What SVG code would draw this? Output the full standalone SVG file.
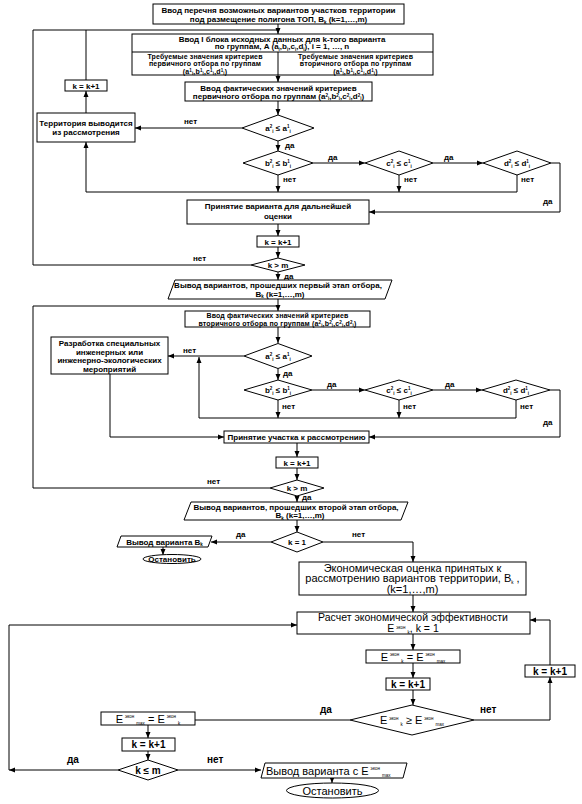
<svg xmlns="http://www.w3.org/2000/svg" width="582" height="804" viewBox="0 0 582 804">
<defs>
<marker id="ah" markerWidth="6" markerHeight="6" refX="6" refY="3" orient="auto" markerUnits="userSpaceOnUse"><path d="M0,0.5 L6,3 L0,5.5 z" fill="#000"/></marker>
<style>
.bx{fill:#fff;stroke:#000;stroke-width:1}
.ln{fill:none;stroke:#000;stroke-width:1}
.ar{marker-end:url(#ah)}
text{font-family:"Liberation Sans",Arial,sans-serif;fill:#000}
.b8{font-size:8px;font-weight:bold}
.b7{font-size:7px;font-weight:bold;letter-spacing:0.15px}
.r11{font-size:11px}
.r10{font-size:10.5px}
.b10{font-size:10px;font-weight:bold}
.m{text-anchor:middle}
.s{font-size:4.5px}
.s4{font-size:4.5px}
</style>
</defs>
<rect width="582" height="804" fill="#fff"/>
<g id="connectors">
<path class="ln ar" d="M278,24V34"/>
<path class="ln ar" d="M278,75V82"/>
<path class="ln ar" d="M278,101V115"/>
<path class="ln ar" d="M242,128H135"/>
<path class="ln ar" d="M278,141V151"/>
<path class="ln ar" d="M313,163H365"/>
<path class="ln ar" d="M433,163H483"/>
<path class="ln ar" d="M551,163H560V212H369"/>
<path class="ln ar" d="M278,175V192"/>
<path class="ln ar" d="M399,175V192"/>
<path class="ln" d="M517,175V192H399"/>
<path class="ln ar" d="M399,192H86V142"/>
<path class="ln ar" d="M86,113V91"/>
<path class="ln" d="M86,80V30H278"/>
<path class="ln ar" d="M278,224V236"/>
<path class="ln ar" d="M278,247V258"/>
<path class="ln" d="M251,265H33V30H86"/>
<path class="ln ar" d="M278,272V280"/>
<path class="ln ar" d="M278,299V311"/>
<path class="ln" d="M270,488H33V306H278"/>
<path class="ln ar" d="M278,327V343"/>
<path class="ln ar" d="M244,356H168"/>
<path class="ln ar" d="M110,374V437H224"/>
<path class="ln ar" d="M278,368.5V380"/>
<path class="ln ar" d="M312,390H365"/>
<path class="ln ar" d="M433,390H482"/>
<path class="ln ar" d="M550,390H560V437H369"/>
<path class="ln ar" d="M278,400V418"/>
<path class="ln ar" d="M399,400V418"/>
<path class="ln" d="M516,400V418H399"/>
<path class="ln ar" d="M399,418H199V357"/>
<path class="ln ar" d="M297,443V457"/>
<path class="ln ar" d="M297,468V480"/>
<path class="ln ar" d="M297,496V502"/>
<path class="ln ar" d="M297,520V532"/>
<path class="ln ar" d="M271,542H211"/>
<path class="ln ar" d="M163,547V555"/>
<path class="ln ar" d="M323,542H413V562"/>
<path class="ln ar" d="M413,595V612"/>
<path class="ln ar" d="M118,770H9"/>
<path class="ln ar" d="M9,770V625H297"/>
<path class="ln ar" d="M413,634V650"/>
<path class="ln ar" d="M413,663V678"/>
<path class="ln ar" d="M413,690V705"/>
<path class="ln ar" d="M474,720H550V677"/>
<path class="ln ar" d="M550,665V620H530"/>
<path class="ln" d="M350,720H195"/>
<path class="ln ar" d="M148,725V738"/>
<path class="ln ar" d="M148,751V760"/>
<path class="ln ar" d="M178,770H261"/>
<path class="ln ar" d="M332,778V783"/>
<g class="b8">
<text x="184" y="124">нет</text>
<text x="285" y="148">да</text>
<text x="328" y="160">да</text>
<text x="444" y="160">да</text>
<text x="543" y="204">да</text>
<text x="283" y="182">нет</text>
<text x="404" y="182">нет</text>
<text x="521" y="182">нет</text>
<text x="193" y="261">нет</text>
<text x="284" y="279">да</text>
<text x="183" y="353">нет</text>
<text x="283" y="376">да</text>
<text x="327" y="387">да</text>
<text x="445" y="387">да</text>
<text x="543" y="425">да</text>
<text x="282" y="409">нет</text>
<text x="403" y="409">нет</text>
<text x="520" y="409">нет</text>
<text x="207" y="484">нет</text>
<text x="302" y="500">да</text>
<text x="236" y="537">да</text>
<text x="352" y="537">нет</text>
</g>
<g class="b10">
<text x="320" y="713">да</text>
<text x="480" y="713">нет</text>
<text x="67" y="763">да</text>
<text x="207" y="763">нет</text>
</g>
</g>
<g id="n1"><rect class="bx" x="153" y="4" width="251" height="20"/>
<text class="b8 m" x="278.5" y="13">Ввод перечня возможных вариантов участков территории</text>
<text class="b8 m" x="278.5" y="22">под размещение полигона ТОП, B<tspan class="s" dy="1.5">k</tspan><tspan dy="-1.5"> (k=1,…,m)</tspan></text></g>
<g id="n2"><rect class="bx" x="132" y="34" width="301" height="41"/><path class="ln" d="M132,52H433M278,52V75"/>
<text class="b8 m" x="282" y="41.5">Ввод I блока исходных данных для k-того варианта</text>
<text class="b8 m" x="282" y="49.3">по группам, A (a<tspan class="s" dy="1.2">i</tspan><tspan dy="-1.2">,b</tspan><tspan class="s" dy="1.2">i</tspan><tspan dy="-1.2">,c</tspan><tspan class="s" dy="1.2">i</tspan><tspan dy="-1.2">,d</tspan><tspan class="s" dy="1.2">i</tspan><tspan dy="-1.2">), i = 1, …, n</tspan></text>
<text class="b7 m" x="205" y="59">Требуемые значения критериев</text>
<text class="b7 m" x="205" y="66.3">первичного отбора по группам</text>
<text class="b7 m" x="205" y="73.6">(a<tspan class="s" dy="-1.2">1</tspan><tspan class="s" dy="2.4">i</tspan><tspan dy="-1.2">,b</tspan><tspan class="s" dy="-1.2">1</tspan><tspan class="s" dy="2.4">i</tspan><tspan dy="-1.2">,c</tspan><tspan class="s" dy="-1.2">1</tspan><tspan class="s" dy="2.4">i</tspan><tspan dy="-1.2">,d</tspan><tspan class="s" dy="-1.2">1</tspan><tspan class="s" dy="2.4">i</tspan><tspan dy="-1.2">)</tspan></text>
<text class="b7 m" x="355.5" y="59">Требуемые значения критериев</text>
<text class="b7 m" x="355.5" y="66.3">вторичного отбора по группам</text>
<text class="b7 m" x="355.5" y="73.6">(a<tspan class="s" dy="-1.2">1</tspan><tspan class="s" dy="2.4">i</tspan><tspan dy="-1.2">,b</tspan><tspan class="s" dy="-1.2">1</tspan><tspan class="s" dy="2.4">i</tspan><tspan dy="-1.2">,c</tspan><tspan class="s" dy="-1.2">1</tspan><tspan class="s" dy="2.4">i</tspan><tspan dy="-1.2">,d</tspan><tspan class="s" dy="-1.2">1</tspan><tspan class="s" dy="2.4">i</tspan><tspan dy="-1.2">)</tspan></text></g>
<g id="n3"><rect class="bx" x="185" y="82" width="187" height="19"/>
<text class="b8 m" x="278.5" y="90.5">Ввод фактических значений критериев</text>
<text class="b8 m" x="278.5" y="98.5">первичного отбора по группам (a<tspan class="s" dy="-2">2</tspan><tspan class="s" dy="3.5">i</tspan><tspan dy="-1.5">,b</tspan><tspan class="s" dy="-2">2</tspan><tspan class="s" dy="3.5">i</tspan><tspan dy="-1.5">,c</tspan><tspan class="s" dy="-2">2</tspan><tspan class="s" dy="3.5">i</tspan><tspan dy="-1.5">,d</tspan><tspan class="s" dy="-2">2</tspan><tspan class="s" dy="3.5">i</tspan><tspan dy="-1.5">)</tspan></text></g>
<g id="d1a"><polygon class="bx" points="242,128 278,115 314,128 278,141"/>
<text class="b8 m" x="278" y="131">a<tspan class="s" dy="-3">2</tspan><tspan class="s" dy="4.5">i</tspan><tspan dy="-1.5"> ≤ a</tspan><tspan class="s" dy="-3">1</tspan><tspan class="s" dy="4.5">i</tspan></text></g>
<g id="n_terr"><rect class="bx" x="37" y="113" width="98" height="29"/>
<text class="b8 m" x="86" y="126">Территория выводится</text>
<text class="b8 m" x="86" y="135">из рассмотрения</text></g>
<g id="k1"><rect class="bx" x="65" y="80" width="42" height="11"/><text class="b8 m" x="86" y="88.5">k = k+1</text></g>
<g id="d1b"><polygon class="bx" points="243,163 278,151 313,163 278,175"/>
<text class="b8 m" x="278" y="166">b<tspan class="s" dy="-3">2</tspan><tspan class="s" dy="4.5">i</tspan><tspan dy="-1.5"> ≤ b</tspan><tspan class="s" dy="-3">1</tspan><tspan class="s" dy="4.5">i</tspan></text></g>
<g id="d1c"><polygon class="bx" points="365,163 399,151 433,163 399,175"/>
<text class="b8 m" x="399" y="166">c<tspan class="s" dy="-3">2</tspan><tspan class="s" dy="4.5">i</tspan><tspan dy="-1.5"> ≤ c</tspan><tspan class="s" dy="-3">1</tspan><tspan class="s" dy="4.5">i</tspan></text></g>
<g id="d1d"><polygon class="bx" points="483,163 517,151 551,163 517,175"/>
<text class="b8 m" x="517" y="166">d<tspan class="s" dy="-3">2</tspan><tspan class="s" dy="4.5">i</tspan><tspan dy="-1.5"> ≤ d</tspan><tspan class="s" dy="-3">1</tspan><tspan class="s" dy="4.5">i</tspan></text></g>
<g id="n_accept1"><rect class="bx" x="187" y="200" width="182" height="24"/>
<text class="b8 m" x="278" y="209">Принятие варианта для дальнейшей</text>
<text class="b8 m" x="278" y="218.5">оценки</text></g>
<g id="k2"><rect class="bx" x="257" y="236" width="42" height="11"/><text class="b8 m" x="278" y="244.5">k = k+1</text></g>
<g id="d_km1"><polygon class="bx" points="251,265 278,258 305,265 278,272"/><text class="b8 m" x="278" y="268">k &gt; m</text></g>
<g id="out1"><polygon class="bx" points="175,280 392,280 385,299 168,299"/>
<text class="b8 m" x="278" y="288">Вывод вариантов, прошедших первый этап отбора,</text>
<text class="b8 m" x="280" y="296.5">B<tspan class="s" dy="1.5">k</tspan><tspan dy="-1.5"> (k=1,…,m)</tspan></text></g>
<g id="n4"><rect class="bx" x="185" y="311" width="185" height="16"/>
<text class="b7 m" x="277.5" y="318">Ввод фактических значений критериев</text>
<text class="b7 m" x="277.5" y="325.5">вторичного отбора по группам (a<tspan class="s" dy="-2">2</tspan><tspan class="s" dy="3.5">i</tspan><tspan dy="-1.5">,b</tspan><tspan class="s" dy="-2">2</tspan><tspan class="s" dy="3.5">i</tspan><tspan dy="-1.5">,c</tspan><tspan class="s" dy="-2">2</tspan><tspan class="s" dy="3.5">i</tspan><tspan dy="-1.5">,d</tspan><tspan class="s" dy="-2">2</tspan><tspan class="s" dy="3.5">i</tspan><tspan dy="-1.5">)</tspan></text></g>
<g id="d2a"><polygon class="bx" points="244,356 278,343.5 312,356 278,368.5"/>
<text class="b8 m" x="278" y="359">a<tspan class="s" dy="-3">2</tspan><tspan class="s" dy="4.5">i</tspan><tspan dy="-1.5"> ≤ a</tspan><tspan class="s" dy="-3">1</tspan><tspan class="s" dy="4.5">i</tspan></text></g>
<g id="n_dev"><rect class="bx" x="51" y="337" width="117" height="37"/>
<text class="b8 m" x="109.5" y="346">Разработка специальных</text>
<text class="b8 m" x="109.5" y="354.5">инженерных или</text>
<text class="b8 m" x="109.5" y="363">инженерно-экологических</text>
<text class="b8 m" x="109.5" y="371.5">мероприятий</text></g>
<g id="d2b"><polygon class="bx" points="244,390 278,380 312,390 278,400"/>
<text class="b8 m" x="278" y="393">b<tspan class="s" dy="-3">2</tspan><tspan class="s" dy="4.5">i</tspan><tspan dy="-1.5"> ≤ b</tspan><tspan class="s" dy="-3">1</tspan><tspan class="s" dy="4.5">i</tspan></text></g>
<g id="d2c"><polygon class="bx" points="365,390 399,380 433,390 399,400"/>
<text class="b8 m" x="399" y="393">c<tspan class="s" dy="-3">2</tspan><tspan class="s" dy="4.5">i</tspan><tspan dy="-1.5"> ≤ c</tspan><tspan class="s" dy="-3">1</tspan><tspan class="s" dy="4.5">i</tspan></text></g>
<g id="d2d"><polygon class="bx" points="482,390 516,380 550,390 516,400"/>
<text class="b8 m" x="516" y="393">d<tspan class="s" dy="-3">2</tspan><tspan class="s" dy="4.5">i</tspan><tspan dy="-1.5"> ≤ d</tspan><tspan class="s" dy="-3">1</tspan><tspan class="s" dy="4.5">i</tspan></text></g>
<g id="n_accept2"><rect class="bx" x="224" y="431" width="145" height="12"/>
<text class="b8 m" x="296.5" y="440">Принятие участка к рассмотрению</text></g>
<g id="k3"><rect class="bx" x="276" y="457" width="42" height="11"/><text class="b8 m" x="297" y="465.5">k = k+1</text></g>
<g id="d_km2"><polygon class="bx" points="270,488 297,480 324,488 297,496"/><text class="b8 m" x="297" y="491">k &gt; m</text></g>
<g id="out2"><polygon class="bx" points="191,502 408,502 401,520 184,520"/>
<text class="b8 m" x="296" y="509.5">Вывод вариантов, прошедших второй этап отбора,</text>
<text class="b8 m" x="300" y="518">B<tspan class="s" dy="1.5">k</tspan><tspan dy="-1.5"> (k=1,…,m)</tspan></text></g>
<g id="d_k1"><polygon class="bx" points="271,542 297,532 323,542 297,552"/><text class="b8 m" x="297" y="545">k = 1</text></g>
<g id="out3"><polygon class="bx" points="121,536 212,536 208,547 117,547"/>
<text class="b8 m" x="164.5" y="544.5">Вывод варианта B<tspan class="s" dy="1.5">k</tspan></text></g>
<g id="stop1"><ellipse class="bx" cx="172" cy="559" rx="29" ry="4.5"/><text class="b8 m" x="172" y="562">Остановить</text></g>
<g id="n_econ"><rect class="bx" x="299" y="562" width="227" height="33"/>
<text class="r11 m" x="412.5" y="571.5">Экономическая оценка принятых к</text>
<text class="r11 m" x="412.5" y="582">рассмотрению вариантов территории, B<tspan class="s4" dy="2">k</tspan><tspan dy="-2"> ,</tspan></text>
<text class="r11 m" x="412.5" y="592.5">(k=1,…,m)</text></g>
<g id="n_calc"><rect class="bx" x="297" y="612" width="233" height="22"/>
<text class="r10 m" x="413" y="620.5">Расчет экономической эффективности</text>
<text class="r10 m" x="413" y="632">E<tspan class="s4" dx="2" dy="-3">экон</tspan><tspan class="s4" dx="2" dy="4.5">k</tspan><tspan dy="-1.5">, k = 1</tspan></text></g>
<g id="n_emax1"><rect class="bx" x="366" y="650" width="94" height="13"/>
<text class="r11 m" x="413" y="660.5">E<tspan class="s4" dx="2" dy="-4.5">экон</tspan><tspan class="s4" dx="2" dy="6.5">k</tspan><tspan dy="-2"> = E</tspan><tspan class="s4" dx="2" dy="-4.5">экон</tspan><tspan class="s4" dx="2" dy="6.5">max</tspan></text></g>
<g id="k4"><rect class="bx" x="386" y="678" width="44" height="12"/><text class="b10 m" x="408" y="687.5">k = k+1</text></g>
<g id="d_cmp"><polygon class="bx" points="350,720 412,705 474,720 412,735"/>
<text class="r11 m" x="412" y="724">E<tspan class="s4" dx="2" dy="-4.5">экон</tspan><tspan class="s4" dx="2" dy="6.5">k</tspan><tspan dy="-2"> ≥ E</tspan><tspan class="s4" dx="2" dy="-4.5">экон</tspan><tspan class="s4" dx="2" dy="6.5">max</tspan></text></g>
<g id="k5"><rect class="bx" x="525" y="665" width="50" height="12"/><text class="b10 m" x="550" y="674.5">k = k+1</text></g>
<g id="n_emax2"><rect class="bx" x="101" y="712" width="94" height="13"/>
<text class="r11 m" x="148" y="722.5">E<tspan class="s4" dx="2" dy="-4.5">экон</tspan><tspan class="s4" dx="2" dy="6.5">max</tspan><tspan dy="-2"> = E</tspan><tspan class="s4" dx="2" dy="-4.5">экон</tspan><tspan class="s4" dx="2" dy="6.5">k</tspan></text></g>
<g id="k6"><rect class="bx" x="122" y="738" width="53" height="13"/><text class="b10 m" x="148.5" y="748">k = k+1</text></g>
<g id="d_kle"><polygon class="bx" points="118,770 148,760 178,770 148,780"/><text class="b10 m" x="148" y="774">k  ≤ m</text></g>
<g id="out4"><polygon class="bx" points="265,763 407,763 403,778 261,778"/>
<text class="r11" x="266" y="774.5">Вывод варианта с E<tspan class="s4" dx="2" dy="-4.5">экон</tspan><tspan class="s4" dx="2" dy="6.5">max</tspan></text></g>
<g id="stop2"><ellipse class="bx" cx="332.5" cy="790.5" rx="46" ry="7.5"/><text class="r11 m" x="332.5" y="794.5">Остановить</text></g>
</svg>
